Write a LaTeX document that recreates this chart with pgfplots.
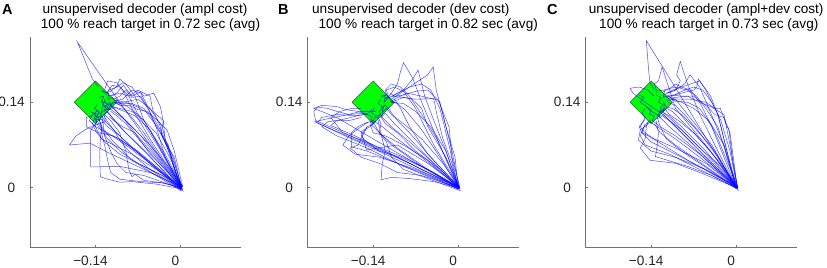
\documentclass[border=0pt]{standalone}
\usepackage{fontspec}
\setmainfont{Liberation Sans}
\usepackage{pgfplots}
\pgfplotsset{compat=1.18}
\pgfplotsset{
  panel/.style={
    scale only axis, width=211bp, height=210.5bp, anchor=south west,
    xmin=-0.248, xmax=0.1, ymin=-0.098, ymax=0.247,
    axis x line*=bottom, axis y line*=left,
    axis line style={black!55, line width=0.8bp},
    xtick={-0.14,0}, ytick={0,0.14},
    xticklabels={−0.14,0}, yticklabels={0,0.14},
    tick align=inside, major tick length=2.5bp,
    tick style={black!55, line width=0.6bp},
    tick label style={font=\fontsize{13.6bp}{15bp}\selectfont, text=black!85},
    xticklabel style={xshift=-5bp, yshift=-4bp},
    yticklabel style={anchor=center, xshift=-18.5bp},
  },
  traj/.style={draw=blue, line width=0.5bp, opacity=0.7},
  target/.style={fill=green, draw=black!70, line width=0.5bp},
}
\begin{document}
\fontsize{13.6bp}{15bp}\selectfont
\begin{tikzpicture}[x=1bp,y=1bp]
% ---------------- Panel A ----------------
\begin{axis}[panel, at={(30bp,19.5bp)}]
\addplot[target] coordinates {(-0.175,0.14) (-0.14,0.175) (-0.105,0.14) (-0.14,0.105) (-0.175,0.14)};
\addplot[traj] coordinates {(0.003,-0.004) (-0.03,0.03) (-0.06,0.062) (-0.09,0.09) (-0.115,0.118) (-0.125,0.128) (-0.131,0.122) (-0.128,0.134)};
\addplot[traj] coordinates {(0.004,0.002) (-0.02,0.035) (-0.05,0.07) (-0.08,0.1) (-0.105,0.125) (-0.118,0.138) (-0.124,0.132) (-0.13,0.141)};
\addplot[traj] coordinates {(0.001,-0.005) (-0.04,0.02) (-0.08,0.045) (-0.11,0.075) (-0.13,0.1) (-0.135,0.115) (-0.142,0.12) (-0.137,0.127)};
\addplot[traj] coordinates {(0.003,0.001) (-0.01,0.04) (-0.025,0.08) (-0.03,0.1) (-0.05,0.13) (-0.07,0.145) (-0.095,0.14) (-0.11,0.14) (-0.116,0.133)};
\addplot[traj] coordinates {(0.0,0.0) (-0.015,0.05) (-0.032,0.09) (-0.028,0.11) (-0.045,0.125) (-0.05,0.15) (-0.07,0.16) (-0.085,0.15) (-0.1,0.155) (-0.115,0.15)};
\addplot[traj] coordinates {(0.002,-0.002) (-0.03,0.06) (-0.06,0.11) (-0.075,0.15) (-0.09,0.17) (-0.1,0.178) (-0.105,0.165) (-0.118,0.16) (-0.122,0.152)};
\addplot[traj] coordinates {(0.001,0.001) (-0.05,0.07) (-0.1,0.14) (-0.14,0.196) (-0.17,0.239) (-0.16,0.215) (-0.152,0.195) (-0.145,0.178) (-0.135,0.165)};
\addplot[traj] coordinates {(0.0,0.002) (-0.06,0.03) (-0.12,0.058) (-0.149,0.073) (-0.183,0.07) (-0.172,0.085) (-0.157,0.095) (-0.14,0.103) (-0.124,0.108) (-0.125,0.12)};
\addplot[traj] coordinates {(0.003,-0.002) (-0.04,0.006) (-0.08,0.01) (-0.1,0.009) (-0.12,0.014) (-0.132,0.018) (-0.133,0.05) (-0.132,0.08) (-0.13,0.1) (-0.128,0.115)};
\addplot[traj] coordinates {(0.0,0.001) (-0.03,0.008) (-0.06,0.012) (-0.075,0.022) (-0.08,0.018) (-0.085,0.03) (-0.09,0.06) (-0.1,0.09) (-0.115,0.11) (-0.125,0.12)};
\addplot[traj] coordinates {(0.002,0.0) (-0.05,0.025) (-0.1,0.035) (-0.148,0.034) (-0.148,0.06) (-0.148,0.094) (-0.138,0.108) (-0.142,0.116)};
\addplot[traj] coordinates {(0.001,-0.003) (-0.04,0.04) (-0.07,0.07) (-0.085,0.085) (-0.1,0.1) (-0.11,0.112) (-0.12,0.125) (-0.127,0.12)};
\addplot[traj] coordinates {(0.003,0.003) (-0.02,0.04) (-0.045,0.085) (-0.06,0.11) (-0.08,0.125) (-0.1,0.13) (-0.112,0.132) (-0.118,0.142)};
\addplot[traj] coordinates {(0.0,-0.002) (-0.03,0.02) (-0.07,0.04) (-0.1,0.06) (-0.12,0.08) (-0.135,0.1) (-0.14,0.11)};
\addplot[traj] coordinates {(0.004,-0.004) (-0.025,0.05) (-0.04,0.1) (-0.055,0.135) (-0.065,0.155) (-0.08,0.16) (-0.095,0.145) (-0.11,0.142)};
\addplot[traj] coordinates {(0.002,0.001) (-0.06,0.05) (-0.1,0.08) (-0.125,0.09) (-0.135,0.105) (-0.13,0.12) (-0.137,0.125)};
\addplot[traj] coordinates {(0.001,0.0) (-0.035,0.065) (-0.07,0.12) (-0.085,0.15) (-0.1,0.165) (-0.112,0.168) (-0.12,0.158)};
\addplot[traj] coordinates {(0.0,0.001) (-0.018,0.06) (-0.03,0.085) (-0.038,0.1) (-0.05,0.115) (-0.06,0.13) (-0.08,0.138) (-0.1,0.138) (-0.107,0.147)};
\addplot[traj] coordinates {(0.002,-0.001) (-0.05,0.04) (-0.09,0.07) (-0.12,0.09) (-0.14,0.1) (-0.15,0.11) (-0.145,0.12)};
\addplot[traj] coordinates {(0.001,0.002) (-0.01,0.05) (-0.03,0.083) (-0.033,0.1) (-0.042,0.12) (-0.06,0.14) (-0.065,0.15) (-0.08,0.148) (-0.09,0.16) (-0.1,0.15) (-0.11,0.145)};
\addplot[traj] coordinates {(0.003,0.0) (-0.04,0.03) (-0.08,0.055) (-0.11,0.07) (-0.13,0.08) (-0.14,0.1) (-0.138,0.112)};
\addplot[traj] coordinates {(0.0,0.0) (-0.02,0.025) (-0.05,0.055) (-0.075,0.09) (-0.095,0.115) (-0.11,0.13) (-0.118,0.128) (-0.122,0.136)};
\addplot[traj] coordinates {(0.002,0.002) (-0.03,0.045) (-0.06,0.09) (-0.08,0.115) (-0.098,0.135) (-0.108,0.14)};
\addplot[traj] coordinates {(0.001,0.0) (-0.03,0.008) (-0.065,0.01) (-0.1,0.014) (-0.115,0.025) (-0.12,0.045) (-0.125,0.07) (-0.13,0.09) (-0.132,0.108)};
\addplot[traj] coordinates {(0.0,-0.001) (-0.06,0.02) (-0.09,0.025) (-0.105,0.04) (-0.115,0.06) (-0.125,0.085) (-0.128,0.11)};
\addplot[traj] coordinates {(0.002,0.0) (-0.01,0.03) (-0.02,0.07) (-0.04,0.1) (-0.05,0.12) (-0.07,0.132) (-0.09,0.14) (-0.105,0.143)};
\addplot[traj] coordinates {(0.001,0.001) (-0.05,0.08) (-0.08,0.13) (-0.095,0.16) (-0.105,0.172) (-0.12,0.175) (-0.125,0.16)};
\addplot[traj] coordinates {(0.0,0.0) (-0.07,0.06) (-0.11,0.085) (-0.135,0.09) (-0.155,0.1) (-0.155,0.115) (-0.145,0.118)};
\addplot[traj] coordinates {(0.003,-0.002) (-0.04,0.05) (-0.075,0.09) (-0.095,0.1) (-0.11,0.11) (-0.118,0.118)};
\addplot[traj] coordinates {(0.0,0.002) (-0.03,0.035) (-0.065,0.075) (-0.09,0.105) (-0.105,0.118) (-0.115,0.125)};
\addplot[traj] coordinates {(0.002,0.0) (-0.012,0.05) (-0.025,0.078) (-0.028,0.108) (-0.033,0.133) (-0.044,0.155) (-0.06,0.15) (-0.066,0.157) (-0.08,0.15) (-0.094,0.168) (-0.105,0.155) (-0.118,0.15)};
\addplot[traj] coordinates {(0.005,-0.006) (-0.02,0.01) (-0.05,0.03) (-0.085,0.06) (-0.1,0.078) (-0.11,0.095) (-0.12,0.108) (-0.126,0.118)};
\addplot[traj] coordinates {(0.004,-0.003) (-0.03,0.04) (-0.065,0.085) (-0.09,0.11) (-0.11,0.125) (-0.118,0.13) (-0.125,0.126) (-0.122,0.138) (-0.13,0.142) (-0.126,0.15) (-0.134,0.148)};
\addplot[traj] coordinates {(0.001,0.0) (-0.045,0.035) (-0.085,0.07) (-0.11,0.095) (-0.125,0.11) (-0.13,0.118) (-0.138,0.115) (-0.134,0.125) (-0.142,0.13) (-0.137,0.136)};
\addplot[traj] coordinates {(0.002,0.002) (-0.015,0.045) (-0.04,0.09) (-0.07,0.12) (-0.09,0.135) (-0.105,0.14) (-0.112,0.148) (-0.12,0.145) (-0.118,0.155) (-0.128,0.158)};
\addplot[traj] coordinates {(0.0,-0.003) (-0.055,0.045) (-0.1,0.085) (-0.12,0.1) (-0.13,0.112) (-0.14,0.112) (-0.136,0.12) (-0.146,0.124)};
\addplot[traj] coordinates {(0.003,0.001) (-0.025,0.055) (-0.05,0.095) (-0.075,0.118) (-0.1,0.128) (-0.115,0.135) (-0.12,0.128) (-0.128,0.136) (-0.124,0.145)};
\addplot[traj] coordinates {(0.001,-0.001) (-0.03,0.09) (-0.06,0.14) (-0.08,0.165) (-0.095,0.172) (-0.11,0.162) (-0.115,0.158) (-0.125,0.155) (-0.13,0.16)};
\addplot[traj] coordinates {(0.002,0.0) (-0.02,0.015) (-0.06,0.035) (-0.1,0.055) (-0.125,0.075) (-0.138,0.09) (-0.145,0.105) (-0.14,0.118) (-0.148,0.125)};
\addplot[traj] coordinates {(0.004,0.001) (-0.01,0.06) (-0.022,0.095) (-0.04,0.112) (-0.055,0.125) (-0.07,0.128) (-0.085,0.135) (-0.1,0.135) (-0.11,0.14) (-0.118,0.135) (-0.125,0.142)};
\end{axis}
% ---------------- Panel B ----------------
\begin{axis}[panel, at={(307.7bp,19.5bp)}]
\addplot[target] coordinates {(-0.175,0.14) (-0.14,0.175) (-0.105,0.14) (-0.14,0.105) (-0.175,0.14)};
\addplot[traj] coordinates {(0.002,-0.003) (-0.06,0.027) (-0.12,0.055) (-0.18,0.082) (-0.236,0.108) (-0.22,0.112) (-0.19,0.118) (-0.16,0.125) (-0.135,0.125)};
\addplot[traj] coordinates {(0.001,0.0) (-0.08,0.04) (-0.16,0.075) (-0.232,0.106) (-0.225,0.115) (-0.2,0.12) (-0.17,0.118) (-0.15,0.12) (-0.14,0.115)};
\addplot[traj] coordinates {(0.0,0.001) (-0.07,0.04) (-0.14,0.08) (-0.2,0.115) (-0.238,0.13) (-0.225,0.135) (-0.2,0.133) (-0.185,0.128) (-0.165,0.125) (-0.15,0.12)};
\addplot[traj] coordinates {(0.003,0.0) (-0.06,0.03) (-0.12,0.06) (-0.17,0.085) (-0.21,0.102) (-0.2,0.11) (-0.18,0.11) (-0.16,0.115)};
\addplot[traj] coordinates {(0.002,-0.002) (-0.05,0.02) (-0.1,0.04) (-0.15,0.06) (-0.176,0.067) (-0.176,0.09) (-0.165,0.1) (-0.155,0.105) (-0.14,0.11)};
\addplot[traj] coordinates {(0.0,0.0) (-0.04,0.01) (-0.08,0.015) (-0.11,0.017) (-0.127,0.013) (-0.125,0.04) (-0.12,0.06) (-0.125,0.08) (-0.13,0.1) (-0.132,0.112)};
\addplot[traj] coordinates {(0.001,0.002) (-0.05,0.04) (-0.1,0.07) (-0.151,0.062) (-0.16,0.092) (-0.145,0.1) (-0.135,0.11)};
\addplot[traj] coordinates {(0.0,0.001) (-0.03,0.07) (-0.06,0.14) (-0.075,0.18) (-0.09,0.205) (-0.095,0.19) (-0.1,0.17) (-0.11,0.155) (-0.118,0.145)};
\addplot[traj] coordinates {(0.002,0.0) (-0.01,0.06) (-0.025,0.12) (-0.036,0.16) (-0.041,0.198) (-0.05,0.185) (-0.065,0.175) (-0.08,0.165) (-0.1,0.155) (-0.115,0.147)};
\addplot[traj] coordinates {(0.001,-0.001) (-0.02,0.06) (-0.04,0.11) (-0.055,0.15) (-0.066,0.193) (-0.075,0.178) (-0.09,0.16) (-0.108,0.15)};
\addplot[traj] coordinates {(0.003,0.001) (-0.01,0.05) (-0.015,0.1) (-0.033,0.144) (-0.04,0.146) (-0.07,0.145) (-0.09,0.148) (-0.11,0.14)};
\addplot[traj] coordinates {(0.0,0.0) (-0.01,0.04) (-0.025,0.08) (-0.035,0.12) (-0.04,0.145) (-0.06,0.15) (-0.085,0.155) (-0.105,0.145)};
\addplot[traj] coordinates {(0.002,0.001) (-0.04,0.04) (-0.08,0.08) (-0.105,0.105) (-0.12,0.122) (-0.126,0.116) (-0.124,0.128)};
\addplot[traj] coordinates {(0.0,-0.002) (-0.05,0.03) (-0.1,0.065) (-0.13,0.09) (-0.14,0.108)};
\addplot[traj] coordinates {(0.001,0.0) (-0.03,0.05) (-0.06,0.095) (-0.085,0.125) (-0.1,0.138) (-0.11,0.14)};
\addplot[traj] coordinates {(0.003,-0.001) (-0.06,0.035) (-0.11,0.07) (-0.134,0.095) (-0.14,0.1) (-0.145,0.108)};
\addplot[traj] coordinates {(0.0,0.002) (-0.045,0.05) (-0.08,0.09) (-0.1,0.11) (-0.115,0.13) (-0.12,0.135) (-0.127,0.13)};
\addplot[traj] coordinates {(0.001,0.001) (-0.07,0.03) (-0.13,0.05) (-0.17,0.055) (-0.19,0.07) (-0.18,0.085) (-0.16,0.1) (-0.148,0.108)};
\addplot[traj] coordinates {(0.002,0.0) (-0.02,0.05) (-0.05,0.1) (-0.06,0.13) (-0.075,0.145) (-0.09,0.148) (-0.11,0.15)};
\addplot[traj] coordinates {(0.0,0.0) (-0.05,0.045) (-0.09,0.07) (-0.12,0.085) (-0.14,0.09) (-0.145,0.104)};
\addplot[traj] coordinates {(0.0,0.0) (-0.1,0.05) (-0.2,0.095) (-0.235,0.11) (-0.238,0.125) (-0.232,0.132) (-0.215,0.13) (-0.2,0.125) (-0.18,0.12) (-0.155,0.122)};
\addplot[traj] coordinates {(0.001,0.001) (-0.04,0.025) (-0.09,0.05) (-0.14,0.07) (-0.19,0.09) (-0.21,0.115) (-0.195,0.125) (-0.175,0.13) (-0.16,0.13)};
\addplot[traj] coordinates {(0.002,-0.002) (-0.03,0.03) (-0.07,0.06) (-0.1,0.09) (-0.12,0.105) (-0.13,0.12) (-0.135,0.114)};
\addplot[traj] coordinates {(0.0,0.001) (-0.015,0.07) (-0.03,0.13) (-0.045,0.16) (-0.06,0.17) (-0.08,0.165) (-0.095,0.155) (-0.11,0.145)};
\addplot[traj] coordinates {(0.003,0.0) (-0.05,0.055) (-0.08,0.1) (-0.095,0.13) (-0.105,0.145) (-0.112,0.14)};
\addplot[traj] coordinates {(0.001,0.0) (-0.06,0.02) (-0.1,0.025) (-0.13,0.04) (-0.16,0.05) (-0.178,0.065) (-0.165,0.07) (-0.155,0.09) (-0.15,0.1)};
\addplot[traj] coordinates {(0.002,0.001) (-0.04,0.07) (-0.07,0.13) (-0.09,0.158) (-0.105,0.165) (-0.118,0.16) (-0.115,0.15) (-0.122,0.145)};
\addplot[traj] coordinates {(0.004,-0.005) (-0.05,0.015) (-0.09,0.03) (-0.11,0.05) (-0.118,0.075) (-0.13,0.09) (-0.127,0.105) (-0.133,0.118)};
\addplot[traj] coordinates {(0.003,-0.002) (-0.04,0.04) (-0.08,0.075) (-0.11,0.1) (-0.125,0.115) (-0.13,0.125) (-0.124,0.132) (-0.132,0.138) (-0.128,0.145)};
\addplot[traj] coordinates {(0.001,0.001) (-0.06,0.05) (-0.1,0.08) (-0.125,0.1) (-0.14,0.11) (-0.135,0.118) (-0.143,0.122) (-0.138,0.13)};
\addplot[traj] coordinates {(0.002,0.0) (-0.02,0.06) (-0.045,0.1) (-0.07,0.125) (-0.09,0.138) (-0.108,0.14) (-0.115,0.148) (-0.122,0.14) (-0.12,0.152) (-0.128,0.15)};
\addplot[traj] coordinates {(0.0,-0.002) (-0.09,0.035) (-0.15,0.065) (-0.2,0.085) (-0.225,0.1) (-0.215,0.108) (-0.19,0.112) (-0.165,0.118) (-0.148,0.122) (-0.142,0.128)};
\addplot[traj] coordinates {(0.001,0.002) (-0.035,0.08) (-0.06,0.12) (-0.08,0.15) (-0.095,0.165) (-0.11,0.17) (-0.12,0.16) (-0.118,0.152) (-0.126,0.148)};
\addplot[traj] coordinates {(0.003,0.0) (-0.05,0.03) (-0.095,0.05) (-0.13,0.06) (-0.15,0.075) (-0.16,0.085) (-0.15,0.1) (-0.14,0.104) (-0.144,0.114)};
\addplot[traj] coordinates {(0.002,0.001) (-0.025,0.04) (-0.06,0.08) (-0.09,0.105) (-0.11,0.12) (-0.118,0.13) (-0.125,0.124) (-0.122,0.136)};
\addplot[traj] coordinates {(0.0,0.0) (-0.005,0.05) (-0.02,0.1) (-0.03,0.14) (-0.05,0.16) (-0.07,0.158) (-0.09,0.152) (-0.105,0.15) (-0.112,0.155)};
\end{axis}
% ---------------- Panel C ----------------
\begin{axis}[panel, at={(585.7bp,19.5bp)}]
\addplot[target] coordinates {(-0.175,0.14) (-0.14,0.175) (-0.105,0.14) (-0.14,0.105) (-0.175,0.14)};
\addplot[traj] coordinates {(0.001,0.0) (-0.05,0.082) (-0.1,0.164) (-0.148,0.241) (-0.146,0.215) (-0.144,0.19) (-0.142,0.172) (-0.135,0.16)};
\addplot[traj] coordinates {(0.0,0.001) (-0.03,0.06) (-0.06,0.12) (-0.08,0.17) (-0.092,0.207) (-0.098,0.185) (-0.092,0.175) (-0.1,0.16) (-0.112,0.155)};
\addplot[traj] coordinates {(0.002,0.0) (-0.05,0.07) (-0.1,0.13) (-0.122,0.198) (-0.128,0.175) (-0.135,0.17) (-0.13,0.155)};
\addplot[traj] coordinates {(0.003,-0.002) (-0.005,0.04) (-0.012,0.097) (-0.015,0.1) (-0.026,0.13) (-0.035,0.13) (-0.05,0.14) (-0.075,0.145) (-0.1,0.145) (-0.115,0.143)};
\addplot[traj] coordinates {(0.001,0.001) (-0.015,0.06) (-0.03,0.12) (-0.042,0.15) (-0.062,0.178) (-0.065,0.165) (-0.07,0.16) (-0.09,0.155) (-0.11,0.15)};
\addplot[traj] coordinates {(0.0,0.0) (-0.02,0.07) (-0.045,0.13) (-0.06,0.165) (-0.076,0.185) (-0.085,0.17) (-0.1,0.16) (-0.115,0.155)};
\addplot[traj] coordinates {(0.001,0.0) (-0.06,0.06) (-0.12,0.12) (-0.15,0.14) (-0.17,0.155) (-0.175,0.163) (-0.16,0.165) (-0.145,0.16) (-0.135,0.15)};
\addplot[traj] coordinates {(0.002,0.0) (-0.05,0.03) (-0.1,0.05) (-0.14,0.06) (-0.161,0.078) (-0.158,0.095) (-0.15,0.1) (-0.14,0.11)};
\addplot[traj] coordinates {(0.0,-0.001) (-0.04,0.02) (-0.08,0.035) (-0.133,0.051) (-0.13,0.07) (-0.128,0.09) (-0.132,0.11)};
\addplot[traj] coordinates {(0.001,0.0) (-0.06,0.025) (-0.1,0.04) (-0.142,0.045) (-0.158,0.065) (-0.15,0.08) (-0.148,0.1) (-0.145,0.108)};
\addplot[traj] coordinates {(0.002,0.001) (-0.04,0.04) (-0.08,0.08) (-0.11,0.11) (-0.12,0.12) (-0.127,0.114) (-0.125,0.127)};
\addplot[traj] coordinates {(0.0,0.0) (-0.05,0.035) (-0.1,0.07) (-0.125,0.09) (-0.135,0.105)};
\addplot[traj] coordinates {(0.001,-0.002) (-0.03,0.05) (-0.06,0.09) (-0.085,0.12) (-0.1,0.135) (-0.112,0.14)};
\addplot[traj] coordinates {(0.003,0.0) (-0.06,0.05) (-0.1,0.08) (-0.13,0.1) (-0.142,0.108)};
\addplot[traj] coordinates {(0.0,0.001) (-0.02,0.05) (-0.04,0.1) (-0.06,0.13) (-0.08,0.14) (-0.1,0.142) (-0.108,0.145)};
\addplot[traj] coordinates {(0.002,0.002) (-0.07,0.04) (-0.11,0.06) (-0.14,0.075) (-0.155,0.09) (-0.15,0.105)};
\addplot[traj] coordinates {(0.001,0.0) (-0.035,0.06) (-0.07,0.1) (-0.09,0.12) (-0.105,0.13) (-0.115,0.132) (-0.12,0.14)};
\addplot[traj] coordinates {(0.0,-0.001) (-0.045,0.03) (-0.09,0.06) (-0.115,0.08) (-0.125,0.1) (-0.13,0.115)};
\addplot[traj] coordinates {(0.002,0.0) (-0.01,0.06) (-0.025,0.11) (-0.04,0.14) (-0.055,0.16) (-0.07,0.165) (-0.09,0.158) (-0.105,0.15)};
\addplot[traj] coordinates {(0.001,0.001) (-0.05,0.06) (-0.09,0.1) (-0.11,0.118) (-0.125,0.125) (-0.13,0.118)};
\addplot[traj] coordinates {(0.0,0.0) (-0.06,0.03) (-0.11,0.055) (-0.15,0.07) (-0.158,0.085) (-0.152,0.1) (-0.143,0.11)};
\addplot[traj] coordinates {(0.003,0.001) (-0.03,0.08) (-0.06,0.14) (-0.075,0.16) (-0.09,0.165) (-0.105,0.16) (-0.118,0.152)};
\addplot[traj] coordinates {(0.0,0.0) (-0.025,0.035) (-0.06,0.065) (-0.09,0.095) (-0.11,0.11) (-0.122,0.118)};
\addplot[traj] coordinates {(0.001,-0.001) (-0.04,0.07) (-0.08,0.12) (-0.1,0.145) (-0.115,0.15)};
\addplot[traj] coordinates {(0.002,0.0) (-0.08,0.045) (-0.12,0.07) (-0.145,0.085) (-0.155,0.09) (-0.16,0.1) (-0.15,0.112)};
\addplot[traj] coordinates {(0.0,0.001) (-0.03,0.1) (-0.05,0.13) (-0.065,0.15) (-0.08,0.16) (-0.1,0.165) (-0.12,0.16)};
\addplot[traj] coordinates {(0.004,-0.005) (-0.02,0.03) (-0.042,0.06) (-0.07,0.09) (-0.095,0.11) (-0.11,0.12) (-0.118,0.13) (-0.124,0.125)};
\addplot[traj] coordinates {(0.002,0.002) (-0.01,0.07) (-0.02,0.12) (-0.042,0.133) (-0.06,0.14) (-0.08,0.15) (-0.1,0.148) (-0.112,0.146)};
\addplot[traj] coordinates {(0.003,-0.002) (-0.04,0.045) (-0.08,0.085) (-0.105,0.11) (-0.118,0.122) (-0.125,0.13) (-0.12,0.136) (-0.128,0.14) (-0.124,0.148) (-0.132,0.152)};
\addplot[traj] coordinates {(0.001,0.001) (-0.06,0.055) (-0.1,0.085) (-0.125,0.1) (-0.138,0.11) (-0.135,0.118) (-0.143,0.12) (-0.14,0.128) (-0.148,0.132)};
\addplot[traj] coordinates {(0.002,0.0) (-0.02,0.07) (-0.045,0.11) (-0.07,0.13) (-0.09,0.14) (-0.105,0.145) (-0.112,0.152) (-0.12,0.148) (-0.118,0.158) (-0.128,0.16)};
\addplot[traj] coordinates {(0.0,-0.002) (-0.03,0.12) (-0.05,0.16) (-0.06,0.175) (-0.075,0.17) (-0.09,0.165) (-0.1,0.17) (-0.11,0.162) (-0.12,0.158)};
\addplot[traj] coordinates {(0.001,0.0) (-0.05,0.04) (-0.1,0.065) (-0.135,0.08) (-0.15,0.09) (-0.158,0.1) (-0.15,0.115) (-0.155,0.122) (-0.15,0.13)};
\addplot[traj] coordinates {(0.003,0.001) (-0.03,0.045) (-0.065,0.085) (-0.09,0.11) (-0.105,0.125) (-0.115,0.13) (-0.12,0.125) (-0.118,0.138)};
\addplot[traj] coordinates {(0.002,0.0) (-0.01,0.09) (-0.02,0.115) (-0.035,0.12) (-0.05,0.135) (-0.07,0.15) (-0.09,0.15) (-0.105,0.152) (-0.115,0.148)};
\addplot[traj] coordinates {(0.0,0.0) (-0.07,0.065) (-0.11,0.1) (-0.13,0.12) (-0.14,0.125) (-0.15,0.135) (-0.158,0.14) (-0.152,0.148) (-0.16,0.152)};
\end{axis}
% ---------------- Titles ----------------
\node[anchor=base west, inner sep=0, font=\fontsize{14.5bp}{16bp}\selectfont\bfseries] at (2,252.5) {A};
\node[anchor=base west, inner sep=0, font=\fontsize{14.5bp}{16bp}\selectfont\bfseries] at (278,252.5) {B};
\node[anchor=base west, inner sep=0, font=\fontsize{14.5bp}{16bp}\selectfont\bfseries] at (547,252.5) {C};
\node[anchor=base, inner sep=0] at (145,254) {unsupervised decoder (ampl cost)};
\node[anchor=base, inner sep=0] at (150.5,239) {100 \% reach target in 0.72 sec (avg)};
\node[anchor=base, inner sep=0] at (410.8,254) {unsupervised decoder (dev cost)};
\node[anchor=base, inner sep=0] at (428.3,239) {100 \% reach target in 0.82 sec (avg)};
\node[anchor=base, inner sep=0] at (706.2,254) {unsupervised decoder (ampl+dev cost)};
\node[anchor=base, inner sep=0] at (708.8,239) {100 \% reach target in 0.73 sec (avg)};
\pgfresetboundingbox
\useasboundingbox (0,0) rectangle (827,267);
\end{tikzpicture}
\end{document}
